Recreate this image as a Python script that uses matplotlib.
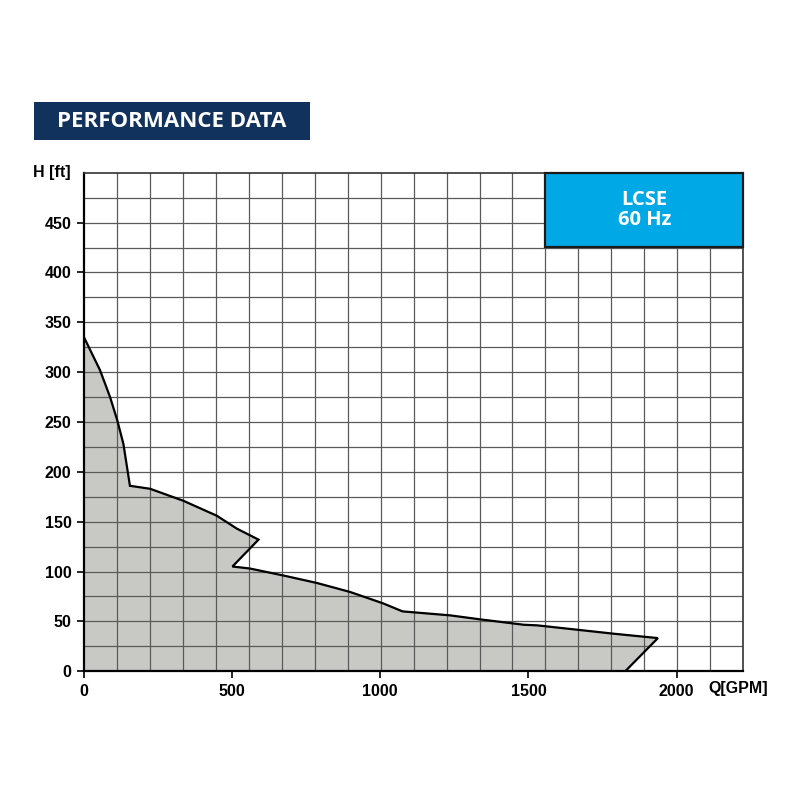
"""
plot.py
Pump performance chart (LCSE, 60 Hz): head vs. flow operating envelope.
"""

import matplotlib
matplotlib.use("Agg")
import matplotlib.pyplot as plt
from matplotlib.patches import Rectangle
from matplotlib.ticker import MultipleLocator


# ── Data ───────────────────────────────────────────────────────────────
# upper envelope, left to right, then the closing points back to the axis
Q_CURVE = [0, 54, 88, 112, 133, 155, 223, 335, 448, 516, 589,
           501, 560, 673, 786, 898, 1010, 1075, 1236, 1337, 1484,
           1529, 1788, 1937]
H_CURVE = [335, 302, 275, 252, 228, 186, 183, 171, 156, 143, 132,
           105, 103, 96, 88.5, 79.5, 68, 60, 56, 52, 46.6,
           46, 37.6, 33.2]
Q_CLOSE = [1827, 0]
H_CLOSE = [0, 0]

X_TICKS = [0, 500, 1000, 1500, 2000]
Y_TICKS = [0, 50, 100, 150, 200, 250, 300, 350, 400, 450]
Q_MAX = 2225
H_MAX = 500

TITLE = "PERFORMANCE DATA"
BADGE = "LCSE\n60 Hz"

# ── Styling ────────────────────────────────────────────────────────────
NAVY   = "#12325e"
CYAN   = "#00a8e6"
FILL   = "#c8c8c5"
GRID   = "#5a5a5a"
TICKFONT = dict(family="Liberation Sans", weight="bold", size=11.5)


fig = plt.figure(figsize=(8, 8), dpi=100)
ax = fig.add_axes([0.105, 0.161, 0.824, 0.623])

# envelope
q_poly = Q_CURVE + Q_CLOSE
h_poly = H_CURVE + H_CLOSE
ax.fill(q_poly, h_poly, color=FILL, zorder=1)
ax.plot(Q_CURVE + [Q_CLOSE[0]], H_CURVE + [H_CLOSE[0]],
        color="black", lw=1.6, zorder=3, solid_joinstyle="miter")

# grid: 20 x 20 cells, independent of the tick labels
for i in range(1, 20):
    ax.axvline(Q_MAX * i / 20, color=GRID, lw=0.9, zorder=2)
for i in range(1, 20):
    ax.axhline(H_MAX * i / 20, color=GRID, lw=0.9, zorder=2)

ax.set_xlim(0, Q_MAX)
ax.set_ylim(0, H_MAX)
ax.set_xticks(X_TICKS)
ax.set_yticks(Y_TICKS)
ax.set_xticklabels([str(v) for v in X_TICKS], fontdict=TICKFONT)
ax.set_yticklabels([str(v) for v in Y_TICKS], fontdict=TICKFONT)
ax.tick_params(direction="out", length=5, width=1.2, pad=4, colors="black")

for side in ("left", "bottom"):
    ax.spines[side].set_linewidth(1.6)
    ax.spines[side].set_color("black")
for side in ("top", "right"):
    ax.spines[side].set_linewidth(1.2)
    ax.spines[side].set_color("#333333")

# axis labels in the corners
fig.text(0.088, 0.784, "H [ft]", ha="right", va="center", **TICKFONT)
fig.text(0.96, 0.139, "Q[GPM]", ha="right", va="center", **TICKFONT)

# model badge in the top-right corner of the grid
ax.add_patch(Rectangle((0.7, 0.852), 0.3, 0.148, transform=ax.transAxes,
                       facecolor=CYAN, edgecolor="#1a1a1a", lw=1.6,
                       zorder=5, clip_on=False))
ax.text(0.85, 0.926, BADGE, transform=ax.transAxes, ha="center",
        va="center", color="white", fontsize=14.5, fontweight="bold",
        family="Open Sans", linespacing=1.0, zorder=6)

# header banner
fig.patches.append(Rectangle((0.0425, 0.825), 0.345, 0.047,
                             transform=fig.transFigure, facecolor=NAVY,
                             edgecolor="none"))
fig.text(0.215, 0.8485, TITLE, ha="center", va="center", color="white",
         fontsize=16, fontweight="bold", family="Open Sans")

fig.savefig("out.png", dpi=100, facecolor="white")
